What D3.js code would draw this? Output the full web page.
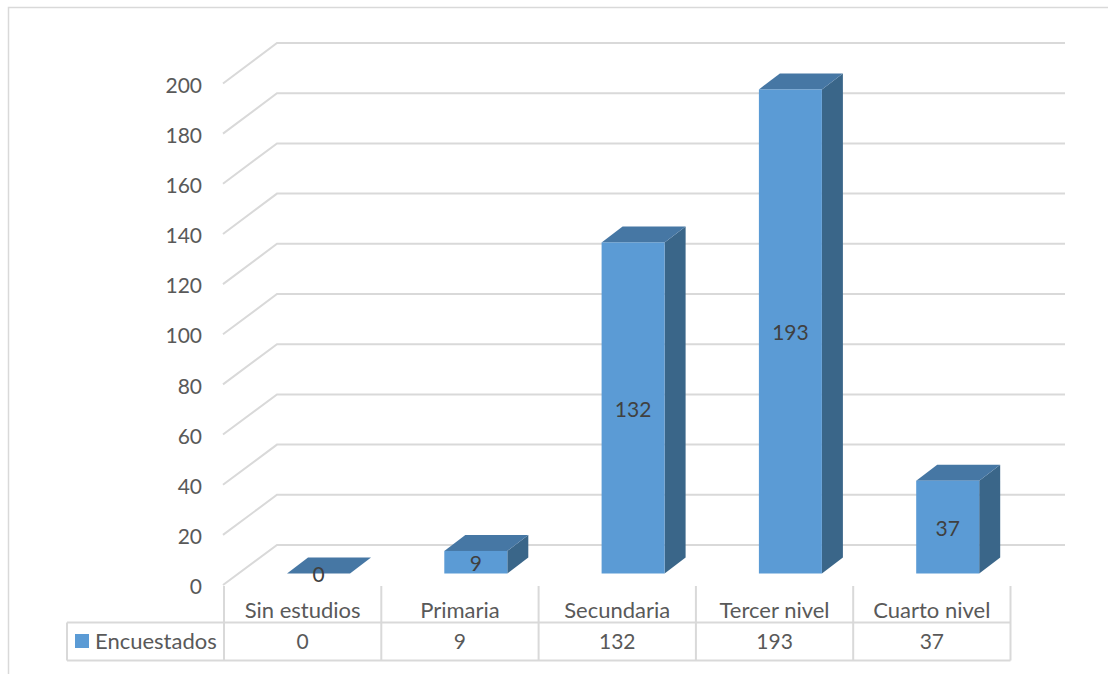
<!DOCTYPE html>
<html><head><meta charset="utf-8">
<script src="https://cdnjs.cloudflare.com/ajax/libs/d3/7.8.5/d3.min.js"></script>
<style>html,body{margin:0;padding:0;background:#fff}svg{display:block}text{font-family:Lato,"Open Sans",sans-serif}</style>
</head><body><svg id="c" width="1108" height="674"></svg>
<script>
const categories = ["Sin estudios","Primaria","Secundaria","Tercer nivel","Cuarto nivel"];
const seriesName = "Encuestados";
const values = [0,9,132,193,37];
const yTicks = [0,20,40,60,80,100,120,140,160,180,200];

const W=1108,H=674;
const svg=d3.select("#c");
const grid="#d9d9d9", txt="#595959", lbl="#404040";
const fs=21, fsWords=22;

// frame
svg.append("path").attr("d",`M8.5,${H}V7.5H${W}`).attr("fill","none").attr("stroke","#d9d9d9").attr("stroke-width",1.5);

// scales
const yFront=d3.scaleLinear().domain([0,200]).range([585,83.5]);
const yBack=d3.scaleLinear().domain([0,200]).range([545,43]);
const yBar=d3.scaleLinear().domain([0,200]).range([573.5,71.9]);
const xCol=d3.scaleBand().domain(categories).range([224,1010.5]);
const barW=63, dx=21, dy=16, backL=277, backR=1065, frontL=223;

// gridlines
const g=svg.append("g").attr("fill","none").attr("stroke",grid).attr("stroke-width",2);
g.selectAll("path").data(yTicks).join("path")
 .attr("d",v=>`M${frontL},${yFront(v)}L${backL},${yBack(v)}H${backR}`);

// y axis labels
const axis=d3.axisLeft(yFront).tickValues(yTicks).tickSize(0).tickPadding(0);
const ax=svg.append("g").attr("transform","translate(202,2)").call(axis);
ax.select(".domain").remove();
ax.selectAll("text").attr("font-size",fs).attr("fill",txt).style("font-family","Lato,'Open Sans',sans-serif");

// bars
const bars=svg.append("g").selectAll("g").data(categories).join("g");
const X=c=>xCol(c)+63;
bars.append("path").attr("fill","#3a6689")
 .attr("d",(c,i)=>`M${X(c)+barW},${yBar(values[i])}l${dx},${-dy}V${yBar(0)-dy}l${-dx},${dy}Z`);
bars.append("path").attr("fill","#4677a4")
 .attr("d",(c,i)=>`M${X(c)},${yBar(values[i])}l${dx},${-dy}h${barW}l${-dx},${dy}Z`);
bars.append("rect").attr("fill","#5b9bd5")
 .attr("x",c=>X(c)).attr("width",barW)
 .attr("y",(c,i)=>yBar(values[i])).attr("height",(c,i)=>yBar(0)-yBar(values[i]));
bars.append("text").attr("x",c=>X(c)+barW/2).attr("y",(c,i)=>(yBar(values[i])+yBar(0))/2+3.5)
 .attr("text-anchor","middle").attr("dominant-baseline","middle")
 .attr("font-size",fs).attr("fill",lbl).text((c,i)=>values[i]);

// data table
const t=svg.append("g").attr("fill","none").attr("stroke",grid).attr("stroke-width",2);
const tableL=67, rowTop=622.5, rowBot=660.5, tickTop=586;
t.append("path").attr("d",`M${tableL},${rowTop}H${xCol.range()[1]}M${tableL},${rowBot}H${xCol.range()[1]}M${tableL},${rowTop}V${rowBot}`);
t.selectAll("line").data(categories.concat(["end"])).join("line")
 .attr("x1",(c,i)=>xCol.range()[0]+i*xCol.step()).attr("x2",(c,i)=>xCol.range()[0]+i*xCol.step())
 .attr("y1",tickTop).attr("y2",rowBot);

const cx=c=>xCol(c)+xCol.bandwidth()/2;
svg.append("g").selectAll("text").data(categories).join("text")
 .attr("x",c=>cx(c)).attr("y",612).attr("text-anchor","middle").attr("dominant-baseline","middle")
 .attr("font-size",fsWords).attr("fill",txt).text(c=>c);
svg.append("g").selectAll("text").data(values).join("text")
 .attr("x",(v,i)=>cx(categories[i])).attr("y",644).attr("text-anchor","middle").attr("dominant-baseline","middle")
 .attr("font-size",fs).attr("fill",txt).text(v=>v);

// legend key
svg.append("rect").attr("x",75).attr("y",634).attr("width",14).attr("height",14).attr("fill","#5b9bd5");
svg.append("text").attr("x",95).attr("y",643).attr("dominant-baseline","middle")
 .attr("font-size",fsWords).attr("fill",txt).text(seriesName);
</script></body></html>
